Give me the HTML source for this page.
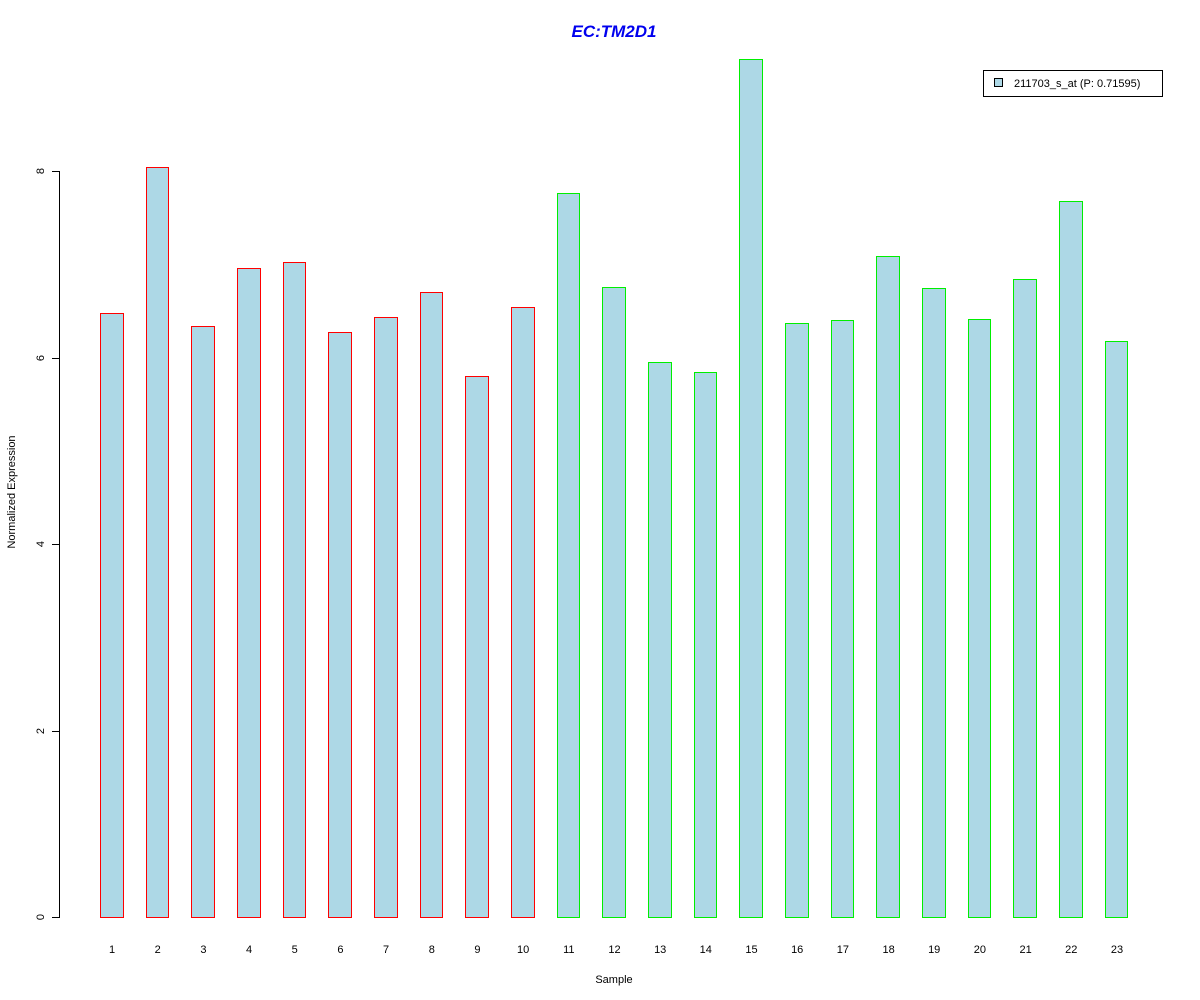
<!DOCTYPE html>
<html><head><style>body{margin:0;background:#fff}svg{display:block}</style></head><body>
<svg width="1200" height="1000" xmlns="http://www.w3.org/2000/svg" font-family="Liberation Sans, Arial, sans-serif" shape-rendering="crispEdges">
<rect width="1200" height="1000" fill="#fff"/>
<text x="614" y="37" text-anchor="middle" font-size="17" font-weight="bold" font-style="italic" fill="#0000ee">EC:TM2D1</text>
<g fill="#000">
<rect x="59" y="171" width="1" height="747"/>
<rect x="52" y="917" width="8" height="1"/>
<rect x="52" y="731" width="8" height="1"/>
<rect x="52" y="544" width="8" height="1"/>
<rect x="52" y="358" width="8" height="1"/>
<rect x="52" y="171" width="8" height="1"/>
</g>
<g font-size="11" text-anchor="middle" fill="#000">
<text transform="translate(44,917) rotate(-90)">0</text>
<text transform="translate(44,731) rotate(-90)">2</text>
<text transform="translate(44,544) rotate(-90)">4</text>
<text transform="translate(44,358) rotate(-90)">6</text>
<text transform="translate(44,171) rotate(-90)">8</text>
<text transform="translate(15,492) rotate(-90)">Normalized Expression</text>
<text x="614" y="983">Sample</text>
</g>
<g fill="#ff0000">
<rect x="100" y="313" width="24" height="605"/>
<rect x="146" y="167" width="23" height="751"/>
<rect x="191" y="326" width="24" height="592"/>
<rect x="237" y="268" width="24" height="650"/>
<rect x="283" y="262" width="23" height="656"/>
<rect x="328" y="332" width="24" height="586"/>
<rect x="374" y="317" width="24" height="601"/>
<rect x="420" y="292" width="23" height="626"/>
<rect x="465" y="376" width="24" height="542"/>
<rect x="511" y="307" width="24" height="611"/>
</g>
<g fill="#00ee00">
<rect x="557" y="193" width="23" height="725"/>
<rect x="602" y="287" width="24" height="631"/>
<rect x="648" y="362" width="24" height="556"/>
<rect x="694" y="372" width="23" height="546"/>
<rect x="739" y="59" width="24" height="859"/>
<rect x="785" y="323" width="24" height="595"/>
<rect x="831" y="320" width="23" height="598"/>
<rect x="876" y="256" width="24" height="662"/>
<rect x="922" y="288" width="24" height="630"/>
<rect x="968" y="319" width="23" height="599"/>
<rect x="1013" y="279" width="24" height="639"/>
<rect x="1059" y="201" width="24" height="717"/>
<rect x="1105" y="341" width="23" height="577"/>
</g>
<g fill="#add8e6">
<rect x="101" y="314" width="22" height="603"/>
<rect x="147" y="168" width="21" height="749"/>
<rect x="192" y="327" width="22" height="590"/>
<rect x="238" y="269" width="22" height="648"/>
<rect x="284" y="263" width="21" height="654"/>
<rect x="329" y="333" width="22" height="584"/>
<rect x="375" y="318" width="22" height="599"/>
<rect x="421" y="293" width="21" height="624"/>
<rect x="466" y="377" width="22" height="540"/>
<rect x="512" y="308" width="22" height="609"/>
<rect x="558" y="194" width="21" height="723"/>
<rect x="603" y="288" width="22" height="629"/>
<rect x="649" y="363" width="22" height="554"/>
<rect x="695" y="373" width="21" height="544"/>
<rect x="740" y="60" width="22" height="857"/>
<rect x="786" y="324" width="22" height="593"/>
<rect x="832" y="321" width="21" height="596"/>
<rect x="877" y="257" width="22" height="660"/>
<rect x="923" y="289" width="22" height="628"/>
<rect x="969" y="320" width="21" height="597"/>
<rect x="1014" y="280" width="22" height="637"/>
<rect x="1060" y="202" width="22" height="715"/>
<rect x="1106" y="342" width="21" height="575"/>
</g>
<g font-size="11" text-anchor="middle" fill="#000">
<text x="112" y="953">1</text><text x="157.7" y="953">2</text><text x="203.4" y="953">3</text><text x="249" y="953">4</text><text x="294.7" y="953">5</text><text x="340.4" y="953">6</text><text x="386.1" y="953">7</text><text x="431.8" y="953">8</text><text x="477.4" y="953">9</text><text x="523.1" y="953">10</text><text x="568.8" y="953">11</text><text x="614.5" y="953">12</text><text x="660.2" y="953">13</text><text x="705.8" y="953">14</text><text x="751.5" y="953">15</text><text x="797.2" y="953">16</text><text x="842.9" y="953">17</text><text x="888.6" y="953">18</text><text x="934.2" y="953">19</text><text x="979.9" y="953">20</text><text x="1025.6" y="953">21</text><text x="1071.3" y="953">22</text><text x="1117" y="953">23</text>
</g>
<rect x="983" y="70" width="180" height="27" fill="#000"/>
<rect x="984" y="71" width="178" height="25" fill="#fff"/>
<rect x="994" y="78" width="9" height="9" fill="#000"/>
<rect x="995" y="79" width="7" height="7" fill="#add8e6"/>
<text x="1014" y="87" font-size="11" fill="#000">211703_s_at (P: 0.71595)</text>
</svg>
</body></html>
